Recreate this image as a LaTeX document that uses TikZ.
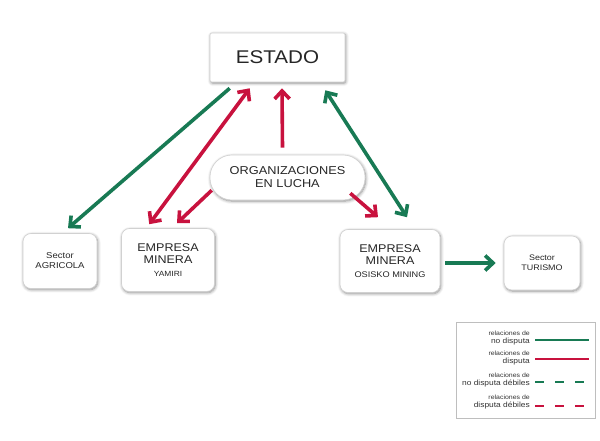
\documentclass[tikz,border=0pt]{standalone}
\usepackage{fontspec}
\setmainfont[FakeStretch=1.12]{Liberation Sans}
\usetikzlibrary{arrows.meta,shadows.blur,calc}
\definecolor{gr}{RGB}{24,122,84}
\definecolor{rd}{RGB}{200,18,62}
\definecolor{lg}{RGB}{190,190,190}
\tikzset{
  box/.style={draw=lg!70, line width=0.6pt, fill=white, rounded corners=8pt, align=center, text=black!85,
    blur shadow={shadow blur steps=6, shadow xshift=0.8pt, shadow yshift=-1.2pt, shadow opacity=45, shadow blur radius=3pt}},
  tip/.style={-{Straight Barb[length=8pt,width=15pt,line width=3.6pt]}},
  tipb/.style={{Straight Barb[length=8pt,width=15pt,line width=3.6pt]}-{Straight Barb[length=8pt,width=15pt,line width=3.6pt]}},
  garr/.style={draw=gr, line width=3.6pt},
  rarr/.style={draw=rd, line width=3.6pt},
  legtxt/.style={anchor=east, align=right, inner sep=0pt, text=black!80, font=\fontsize{7.5}{8}\selectfont},
}
\newcommand{\lgA}[2]{{\fontsize{6.2}{7}\selectfont #1}\\{#2}}
\begin{document}
\begin{tikzpicture}[x=1pt,y=-1pt]
\useasboundingbox (0,0) rectangle (600,441);
% nodes
\node[box, rounded corners=2pt, minimum width=135pt, minimum height=49pt, font=\fontsize{18.4}{20}\selectfont] (estado) at (277.5,57.5) {ESTADO};
\node[box, rounded corners=22pt, minimum width=155pt, minimum height=45pt, font=\fontsize{11.4}{13}\selectfont, inner sep=0pt] (org) at (287.5,177.5) {ORGANIZACIONES\\EN LUCHA};
\node[box, minimum width=74pt, minimum height=55pt, font=\fontsize{8.5}{10}\selectfont] (agri) at (60,261) {Sector\\AGRICOLA};
\node[box, minimum width=93pt, minimum height=63pt, inner sep=0pt] (yam) at (168,260) {{\fontsize{11.2}{13}\selectfont EMPRESA}\\[-0.5pt]{\fontsize{11.2}{13}\selectfont MINERA}\\[1pt]{\fontsize{7.5}{8}\selectfont YAMIRI}};
\node[box, minimum width=100pt, minimum height=63pt, inner sep=0pt] (osi) at (390,261) {{\fontsize{11.2}{13}\selectfont EMPRESA}\\[-0.5pt]{\fontsize{11.2}{13}\selectfont MINERA}\\[1pt]{\fontsize{8.2}{8}\selectfont OSISKO MINING}};
\node[box, minimum width=76pt, minimum height=54pt, font=\fontsize{8}{10}\selectfont] (tur) at (542,263) {Sector\\TURISMO};
% connectors
\draw[garr, tip] ($(estado.south west)+(20,6)$) -- ($(agri.north)+(8,-5)$);
\draw[rarr, tipb] ($(estado.south west)+(40,6)$) -- ($(yam.north west)+(28,-4)$);
\draw[rarr, tip] ($(org.south west)+(2,-10)$) -- ($(yam.north)+(9,-5)$);
\draw[rarr, tip] ($(org.north)+(-5,-7)$) -- ($(estado.south)+(4.5,6)$);
\draw[garr, tipb] ($(estado.south east)+(-20,8)$) -- ($(osi.north)+(17,-12)$);
\draw[rarr, tip] ($(org.south east)+(-15,-7)$) -- ($(osi.north)+(-12,-12)$);
\draw[garr, tip] ($(osi.east)+(5,2)$) -- ($(tur.west)+(-8,0)$);
% legend
\node[draw=lg, line width=0.6pt, minimum width=139pt, minimum height=96pt, inner sep=0pt] (leg) at (525.5,370) {};
\node[legtxt] (l1) at (530,338) {\lgA{relaciones de}{no disputa}};
\node[legtxt] (l2) at (530,358) {\lgA{relaciones de}{disputa}};
\node[legtxt] (l3) at (530,380) {\lgA{relaciones de}{no disputa débiles}};
\node[legtxt] (l4) at (530,402.5) {\lgA{relaciones de}{disputa débiles}};
\draw[gr, line width=2.8pt] (535,340) -- (589,340);
\draw[rd, line width=2.8pt] (535,359) -- (589,359);
\draw[gr, line width=2.8pt, dash pattern=on 9pt off 11pt] (535,382) -- (590,382);
\draw[rd, line width=2.8pt, dash pattern=on 9pt off 11pt] (535,406) -- (590,406);
\end{tikzpicture}
\end{document}
